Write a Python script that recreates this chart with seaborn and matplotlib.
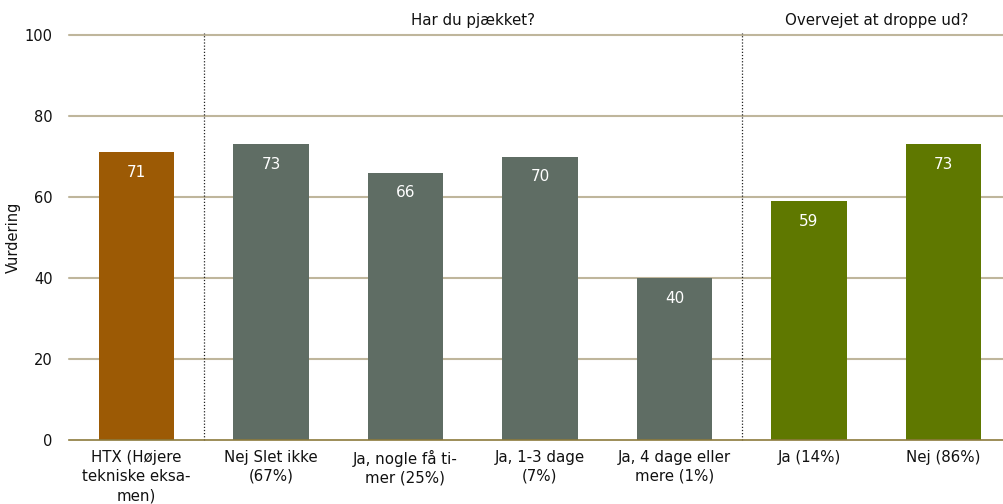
import matplotlib
matplotlib.use("Agg")
import matplotlib.pyplot as plt
import seaborn as sns
import pandas as pd

categories = [
    "HTX (Højere\ntekniske eksa-\nmen)",
    "Nej Slet ikke\n(67%)",
    "Ja, nogle få ti-\nmer (25%)",
    "Ja, 1-3 dage\n(7%)",
    "Ja, 4 dage eller\nmere (1%)",
    "Ja (14%)",
    "Nej (86%)",
]
values = [71, 73, 66, 70, 40, 59, 73]
groups = ["HTX", "Pjæk", "Pjæk", "Pjæk", "Pjæk", "Drop", "Drop"]
group_titles = ["Har du pjækket?", "Overvejet at droppe ud?"]
yticks = [0, 20, 40, 60, 80, 100]

palette = {"HTX": "#9C5A05", "Pjæk": "#5F6D64", "Drop": "#5F7800"}

df = pd.DataFrame({"kategori": categories, "vurdering": values, "gruppe": groups})

sns.set_theme(style="white")
plt.rcParams["font.family"] = ["DejaVu Sans"]

fig = plt.figure(figsize=(10.04, 5.04), dpi=100)
ax = fig.add_axes([69.25 / 1004, 64 / 504, 941.5 / 1004, 405 / 504])

sns.barplot(data=df, x="kategori", y="vurdering", hue="gruppe", palette=palette,
            dodge=False, width=0.56, legend=False, ax=ax, saturation=1,
            linewidth=0, edgecolor="none")

ax.set_ylim(0, 100)
ax.set_xlim(-0.5, 6.5)
ax.set_yticks(yticks)
ax.set_yticklabels([str(t) for t in yticks], fontsize=10.5, color="#111111")
ax.set_xticks(range(len(categories)))
ax.set_xticklabels(categories, fontsize=10.8, color="#111111", linespacing=1.35)
ax.tick_params(axis="both", length=0)
ax.tick_params(axis="x", pad=7)
ax.tick_params(axis="y", pad=12)
ax.set_xlabel("")
ax.set_ylabel("Vurdering", fontsize=10.5, color="#111111")
ax.yaxis.set_label_coords(-48 / 941.5, 0.5)

for t in yticks[1:]:
    ax.axhline(t, color="#BFB69C", linewidth=1.5, zorder=0, clip_on=False)
for s in ["top", "right", "left"]:
    ax.spines[s].set_visible(False)
ax.spines["bottom"].set_color("#8C7A3C")
ax.spines["bottom"].set_linewidth(1.2)

for xv in [0.5, 4.5]:
    ax.axvline(xv, ymin=0, ymax=1.006, color="#222222", linestyle=(0, (1, 1.5)),
               linewidth=0.9, clip_on=False, zorder=1)

for i, v in enumerate(values):
    ax.text(i, v - 5, str(v), ha="center", va="center", color="white", fontsize=11)

ax.text(2.5, 103.6, group_titles[0], ha="center", va="center", fontsize=10.8, color="#111111")
ax.text(5.5, 103.6, group_titles[1], ha="center", va="center", fontsize=10.8, color="#111111")

fig.savefig("out.png", dpi=100)
